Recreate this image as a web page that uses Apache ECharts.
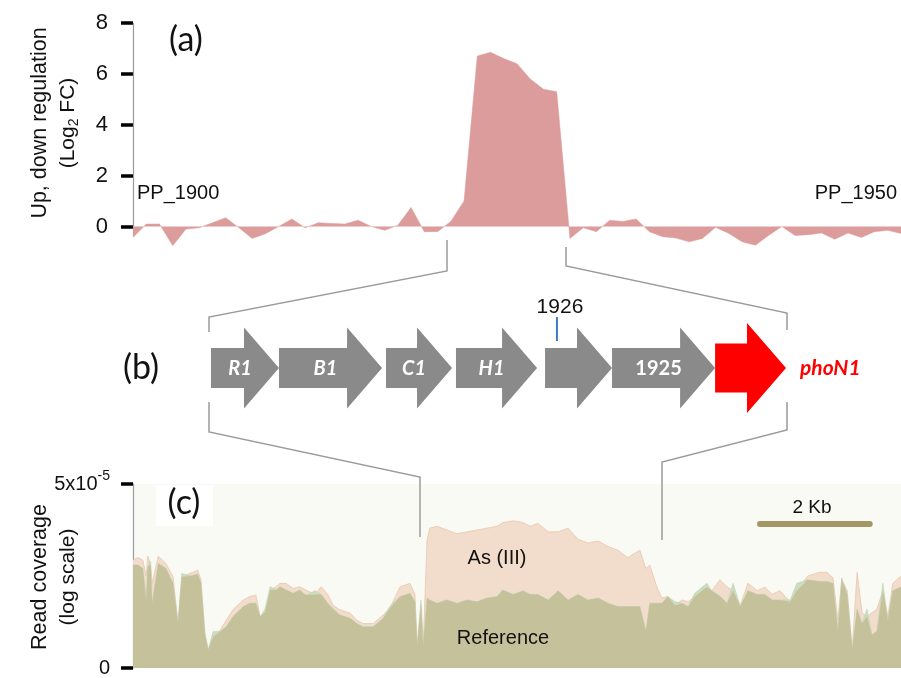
<!DOCTYPE html>
<html><head><meta charset="utf-8">
<script src="https://cdn.jsdelivr.net/npm/echarts@6/dist/echarts.min.js"></script>
<style>html,body{margin:0;padding:0;background:#fff}#c{width:901px;height:678px}</style>
</head><body><div id="c"></div>
<script>
// ---------- Panel (a): log2 fold change, PP_1900 ... PP_1950 ----------
const foldChange = [-0.43,0.1,0.1,-0.75,-0.1,-0.05,0.15,0.35,-0.05,-0.47,
  -0.28,0,0.3,-0.05,0.15,0.12,0.1,0.25,0,-0.15,
  0.05,0.75,-0.2,-0.2,0.2,1.0,6.7,6.85,6.6,6.4,
  5.8,5.4,5.3,-0.47,-0.05,-0.2,0.25,0.2,0.3,-0.2,
  -0.4,-0.45,-0.6,-0.47,-0.03,-0.27,-0.6,-0.73,-0.35,0,
  -0.35,-0.32,-0.25,-0.5,-0.25,-0.43,-0.2,-0.15,-0.27];
const yTicksA = [0,2,4,6,8];
const geneFirst = 'PP_1900', geneLast = 'PP_1950';

// ---------- Panel (b): operon genes (kb) ----------
const geneStart = [0.015,0.535,1.353,1.888,2.569,3.081,3.869];
const geneEnd   = [0.535,1.323,1.858,2.508,3.081,3.869,4.411];
const geneLabels = ['R1','B1','C1','H1','','1925','phoN1'];
const geneItalic = [true,true,true,true,false,false,true];
const geneHighlight = [false,false,false,false,false,false,true];
const markerPos = [2.66];
const markerLabel = ['1926'];

// ---------- Panel (c): read coverage (x10^-5, display scale) ----------
const covPos = [0,0.09,0.18,0.24,0.27,0.32,0.35,0.46,0.60,0.73,
  0.82,0.89,1.04,1.18,1.24,1.31,1.37,1.46,1.59,1.70,
  1.82,2.01,2.13,2.24,2.32,2.41,2.50,2.61,2.68,2.79,
  2.92,3.04,3.15,3.32,3.43,3.55,3.65,3.77,3.96,4.08,
  4.19,4.38,4.56,4.68,4.87,5.05,5.14,5.18,5.25,5.29,
  5.36,5.41,5.54,5.72,5.91,6.09,6.27,6.45,6.64,6.74,
  6.93,7.11,7.24,7.38,7.57,7.75,7.93,8.11,8.29,8.48,
  8.66,8.84,9.02,9.24,9.35,9.42,9.55,9.64,9.75,9.88,
  10.01,10.12,10.24,10.46,10.55,10.70,10.83,10.94,11.07,11.21,
  11.38,11.52,11.65,11.79,11.98,12.10,12.30,12.52,12.65,12.76,
  12.85,12.92,13.02,13.11,13.20,13.29,13.38,13.47,13.56,13.67,
  13.76,13.85,14.00];
const covAsIII = [2.93,3.00,2.93,2.50,3.04,2.80,2.30,3.04,2.84,2.48,
  1.21,2.48,2.57,2.66,2.39,0.94,0.49,0.85,1.03,1.30,
  1.58,1.85,1.94,1.98,1.39,1.53,2.12,2.21,2.30,2.30,
  2.16,2.21,2.12,2.00,2.21,2.00,1.70,1.58,1.49,1.30,
  1.21,1.21,1.44,1.62,2.21,2.30,2.00,0.60,1.70,0.60,
  3.48,3.80,3.85,3.75,3.65,3.70,3.75,3.80,3.85,3.95,
  4.00,3.95,3.85,3.93,3.70,3.70,3.80,3.50,3.40,3.45,
  3.30,3.20,3.00,3.20,2.70,2.80,2.20,1.90,1.94,1.70,
  1.85,1.80,1.94,2.20,2.10,2.40,2.20,2.10,1.70,2.30,
  2.10,2.20,2.00,2.10,1.80,2.10,2.50,2.60,2.60,2.45,
  1.30,2.40,2.10,0.50,2.60,1.50,1.40,1.50,1.60,2.10,
  1.40,2.30,2.50];
const covRef = [2.80,2.80,2.71,1.85,2.75,2.90,1.76,2.84,2.71,2.30,
  1.21,2.57,2.50,2.55,2.30,0.94,0.49,0.99,0.99,1.12,
  1.39,1.67,1.76,1.76,1.39,1.62,2.21,2.12,2.21,2.12,
  2.03,2.12,1.98,2.10,2.00,1.76,1.60,1.44,1.35,1.21,
  1.12,1.12,1.35,1.67,1.94,2.03,1.80,0.60,1.85,0.60,
  1.90,1.85,1.76,1.85,1.76,1.85,1.80,1.90,1.94,2.12,
  2.00,2.10,2.00,2.00,1.85,2.10,1.85,2.00,1.85,1.90,
  1.76,1.67,1.67,1.67,1.00,1.76,1.76,1.76,1.94,1.80,
  1.76,1.67,2.03,2.30,2.10,1.95,1.76,2.30,1.67,2.10,
  2.00,2.00,1.85,1.85,1.85,2.30,2.40,2.35,2.35,2.30,
  1.00,2.45,2.00,0.50,1.60,1.20,1.60,0.90,1.00,2.30,
  1.30,2.10,2.20];
const yTicksC = [0,5];
const scaleBarKb = [11.43, 13.43];
const scaleBarLevel = 3.91;

// ---------- build ----------
const chart = echarts.init(document.getElementById('c'), null, {renderer:'canvas'});
const SANS = '"Liberation Sans", Arial, sans-serif';
const HUM = 'Lato, "Open Sans", sans-serif';
const GRAY_LINE = '#9a9a9a';

const fcData = foldChange.map((v,i)=>[i,v]);
const asData = covPos.map((p,i)=>[p,covAsIII[i]]);
const refData = covPos.map((p,i)=>[p,covRef[i]]);
const bothData = covPos.map((p,i)=>[p,Math.min(covAsIII[i],covRef[i])]);
const geneData = geneStart.map((s,i)=>[s,geneEnd[i]]);

function txt(x,y,text,font,opts){
  return Object.assign({type:'text', x:x, y:y, z:100, silent:true,
    style:Object.assign({text:text, font:font, fill:'#111', align:'center', verticalAlign:'middle'}, opts||{})});
}
function poly(points){
  return {type:'polyline', z:100, silent:true, shape:{points:points},
    style:{stroke:GRAY_LINE, lineWidth:1.5, fill:null}};
}

const tickStyle = {show:true, length:12, lineStyle:{color:'#000', width:3.5}};

const option = {
  animation:false,
  backgroundColor:'#ffffff',
  grid:[
    {left:133, right:0, top:23, height:229},
    {left:209, width:577, top:323, height:90},
    {left:133, right:0, top:484, height:184, show:true, backgroundColor:'#fafaf5', borderWidth:0}
  ],
  xAxis:[
    {gridIndex:0, type:'value', min:0, max:foldChange.length-1, show:false},
    {gridIndex:1, type:'value', min:0, max:geneEnd[geneEnd.length-1], show:false},
    {gridIndex:2, type:'value', min:0, max:covPos[covPos.length-1], show:false}
  ],
  yAxis:[
    {gridIndex:0, type:'value', min:-1, max:8,
      axisLine:{show:false}, splitLine:{show:false},
      axisTick:Object.assign({customValues:yTicksA}, tickStyle),
      axisLabel:{customValues:yTicksA, margin:25, color:'#111', fontSize:22, fontFamily:SANS}},
    {gridIndex:1, type:'value', min:0, max:1, show:false},
    {gridIndex:2, type:'value', min:0, max:5,
      axisLine:{show:true, lineStyle:{color:GRAY_LINE, width:1.2}}, splitLine:{show:false},
      axisTick:Object.assign({customValues:yTicksC}, tickStyle),
      axisLabel:{customValues:yTicksC, margin:23,
        formatter:function(v){ return v===5 ? '{m|5x10}{s|-5}' : '{m|0}'; },
        rich:{m:{fontSize:20, fontFamily:SANS, color:'#111', lineHeight:30},
              s:{fontSize:14, fontFamily:SANS, color:'#111', verticalAlign:'top', lineHeight:14}}}}
  ],
  series:[
    {type:'line', xAxisIndex:0, yAxisIndex:0, data:fcData, symbol:'none',
      lineStyle:{color:'#dc9c9c', width:0.5}, areaStyle:{color:'#dc9c9c', opacity:1},
      markLine:{silent:true, symbol:['none','none'], label:{show:false},
        lineStyle:{color:GRAY_LINE, width:1.2, type:'solid'},
        data:[[{coord:[0,0]},{coord:[0,8]}]]}},
    {type:'custom', xAxisIndex:1, yAxisIndex:1, data:geneData,
      renderItem:function(params, api){
        const i = params.dataIndex;
        const s = api.coord([api.value(0),0.5]);
        const e = api.coord([api.value(1),0.5]);
        const hl = geneHighlight[i];
        const bh = hl?24.5:20, hh = hl?45:40.5, hlen = hl?39:35;
        const x0=s[0], x1=e[0], yc=s[1], xb=x1-hlen;
        const color = hl?'#ff0000':'#8a8a8a';
        const children = [{type:'polygon', shape:{points:[[x0,yc-bh],[xb,yc-bh],[xb,yc-hh],[x1,yc],[xb,yc+hh],[xb,yc+bh],[x0,yc+bh]]},
          style:{fill:color}}];
        const lab = geneLabels[i];
        if (lab){
          if (hl){
            children.push({type:'text', x:x1+14, y:yc, style:{text:lab, fill:'#ff0000',
              font:(geneItalic[i]?'italic ':'')+'bold 21px '+HUM, align:'left', verticalAlign:'middle'}});
          } else {
            children.push({type:'text', x:(x0+x1)/2-5, y:yc+1, style:{text:lab, fill:'#ffffff',
              font:(geneItalic[i]?'italic ':'')+'bold 20px '+HUM, align:'center', verticalAlign:'middle'}});
          }
        }
        return {type:'group', children:children};
      }},
    {type:'custom', xAxisIndex:1, yAxisIndex:1, data:markerPos.map(p=>[p]),
      renderItem:function(params, api){
        const p = api.coord([api.value(0),0.5]);
        return {type:'group', children:[
          {type:'line', shape:{x1:p[0], y1:p[1]-51, x2:p[0], y2:p[1]-27}, style:{stroke:'#3b7dc4', lineWidth:2}},
          {type:'text', x:p[0]+3, y:p[1]-61, style:{text:markerLabel[params.dataIndex], fill:'#111',
            font:'21px '+SANS, align:'center', verticalAlign:'middle'}}
        ]};
      }},
    {type:'line', xAxisIndex:2, yAxisIndex:2, data:asData, symbol:'none', z:2,
      lineStyle:{color:'#e8c6ad', width:0.8}, areaStyle:{color:'#f2dccb', opacity:1}},
    {type:'line', xAxisIndex:2, yAxisIndex:2, data:refData, symbol:'none', z:3,
      lineStyle:{color:'#bcd3b2', width:0.6}, areaStyle:{color:'#cbdcc0', opacity:1}},
    {type:'line', xAxisIndex:2, yAxisIndex:2, data:bothData, symbol:'none', z:4,
      lineStyle:{width:0}, areaStyle:{color:'#c5c29b', opacity:1},
      markLine:{silent:true, symbol:['none','none'], label:{show:false},
        lineStyle:{color:'#a39865', width:6, type:'solid', cap:'round'},
        data:[[{coord:[scaleBarKb[0],scaleBarLevel]},{coord:[scaleBarKb[1],scaleBarLevel]}]]}}
  ],
  graphic:[
    txt(40,123,'Up, down regulation','21.5px '+SANS,{}),
    Object.assign(txt(68,123,'{a|(Log}{s|2}{a| FC)}','21px '+SANS,{
      rich:{a:{fontSize:21, fontFamily:SANS, fill:'#111', lineHeight:26}, s:{fontSize:14, fontFamily:SANS, fill:'#111', verticalAlign:'bottom', lineHeight:14}}}),{}),
    txt(186,40,'(a)','34px '+HUM,{}),
    txt(137,193,geneFirst,'20px '+SANS,{align:'left'}),
    txt(897,193,geneLast,'20px '+SANS,{align:'right'}),
    txt(141,368,'(b)','34px '+HUM,{}),
    {type:'rect', z:99, silent:true, shape:{x:156,y:485,width:57,height:41}, style:{fill:'#ffffff'}},
    txt(184,503,'(c)','34px '+HUM,{}),
    txt(40,577,'Read coverage','21.5px '+SANS,{}),
    txt(68,577,'(log scale)','21px '+SANS,{}),
    txt(497,558,'As (III)','20px '+SANS,{}),
    txt(503,638,'Reference','20px '+SANS,{}),
    txt(812,508,'2 Kb','19px '+SANS,{}),
    poly([[447,240],[447,271],[209,317],[209,332]]),
    poly([[566,247],[566,266],[787,313],[787,330]]),
    poly([[209,402],[209,432],[420,477],[420,537]]),
    poly([[787,402],[787,430],[662,462],[662,540]])
  ]
};
[0,1,8,9].forEach(k=>{ option.graphic[k].rotation = Math.PI/2; });
chart.setOption(option);
</script></body></html>
